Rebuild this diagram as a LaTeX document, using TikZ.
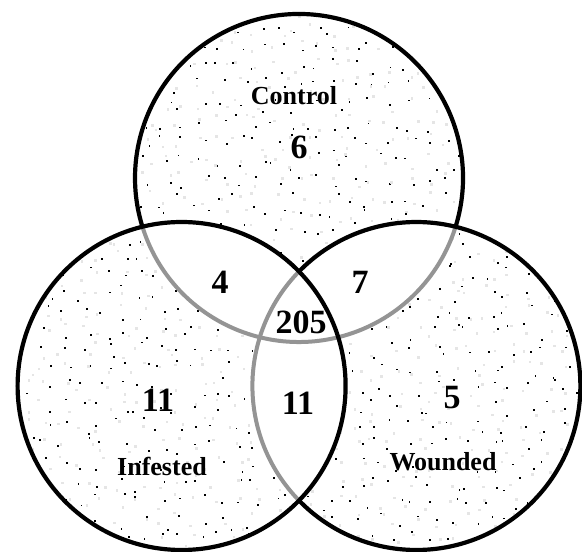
\documentclass[tikz,border=0pt]{standalone}
\usepackage{fontspec}
\setmainfont{Liberation Serif}
\begin{document}
\begin{tikzpicture}[x=1pt,y=1pt,
  ring/.style={line width=4.2pt, black},
  inner/.style={line width=4pt, black!42},
  speck/.style={fill=black},
  faint/.style={fill=black!10},
  lab/.style={font=\fontsize{26}{30}\selectfont\bfseries, inner sep=0pt},
  num/.style={font=\fontsize{34}{38}\selectfont\bfseries, inner sep=0pt}]
\useasboundingbox (0,0) rectangle (582,552);
\def\R{164}
\coordinate (C) at (299,374);
\coordinate (I) at (181.6,166);
\coordinate (W) at (416.4,166);
% dotted texture (jittered grid, one per circle)
\pgfmathsetseed{4711}
\foreach \cx/\cy in {299/374,181.6/166,416.4/166}{
  \begin{scope}
    \clip (\cx,\cy) circle (\R);
    \foreach \i in {0,...,17}{
      \foreach \j in {0,...,17}{
        \pgfmathsetmacro\px{\cx-\R+19*\i+17*rnd}
        \pgfmathsetmacro\py{\cy-\R+19*\j+17*rnd}
        \fill[speck] (\px,\py) rectangle ++(1.8,1.8);
        \pgfmathsetmacro\qx{\cx-\R+19*\i+17*rnd}
        \pgfmathsetmacro\qy{\cy-\R+19*\j+17*rnd}
        \fill[faint] (\qx,\qy) rectangle ++(2.6,2.6);
      }
    }
  \end{scope}
}
% white overlaps
\begin{scope}
  \clip (C) circle (\R);
  \fill[white] (I) circle (\R);
  \fill[white] (W) circle (\R);
\end{scope}
\begin{scope}
  \clip (I) circle (\R);
  \fill[white] (W) circle (\R);
\end{scope}
% grey inner arcs
\draw[inner] (C) ++(197.3:\R) arc[start angle=197.3, end angle=342.7, radius=\R];
\draw[inner] (W) ++(135.7:\R) arc[start angle=135.7, end angle=224.3, radius=\R];
% black outlines
\draw[ring] (C) ++(-17.3:\R) arc[start angle=-17.3, end angle=197.3, radius=\R];
\draw[ring] (W) ++(-135.7:\R) arc[start angle=-135.7, end angle=135.7, radius=\R];
\draw[ring] (I) circle (\R);
% labels
\node[lab] (tC) at (294,456) {Control};
\node[lab] (tI) at (162,86) {Infested};
\node[lab] (tW) at (443,90) {Wounded};
\node[num] (n6) at (299,405) {6};
\node[num] (n4) at (220,270) {4};
\node[num] (n7) at (360,270) {7};
\node[num] (n205) at (301,230) {205};
\node[num] (n11a) at (158,152) {11};
\node[num] (n11b) at (298,149) {11};
\node[num] (n5) at (452,154) {5};
\end{tikzpicture}
\end{document}
